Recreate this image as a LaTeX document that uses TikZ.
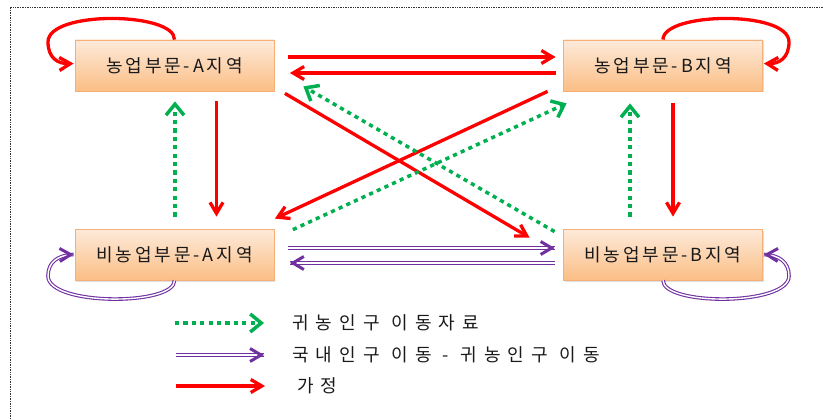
\documentclass[tikz,border=0pt]{standalone}
\usepackage{fontspec}
\newfontfamily\krnode[LetterSpace=16]{Noto Sans CJK KR}
\newfontfamily\krleg[LetterSpace=40]{Noto Sans CJK KR}
\usetikzlibrary{arrows.meta,shadows,decorations.markings,calc}
\definecolor{rd}{HTML}{FF0000}
\definecolor{gn}{HTML}{00B050}
\definecolor{pp}{HTML}{7030A0}
\definecolor{boxtop}{HTML}{FDEADA}
\definecolor{boxbot}{HTML}{FBBE85}
\definecolor{boxline}{HTML}{F5B07A}
\tikzset{
  region/.style={rectangle, minimum width=199pt, minimum height=51pt, inner sep=0pt,
    top color=boxtop, bottom color=boxbot, draw=boxline, line width=0.8pt,
    drop shadow={shadow xshift=1pt, shadow yshift=-1.5pt, opacity=0.25},
    font=\krnode\fontsize{18}{20}\selectfont, text=black!90},
  legtext/.style={anchor=west, inner sep=0pt, font=\krleg\fontsize{18}{20}\selectfont, text=black!90},
  redarr/.style={draw=rd, line width=3.3pt, -{Straight Barb[length=11pt,width=13pt]}},
  grnarr/.style={draw=gn, line width=3.5pt, dash pattern=on 4.2pt off 4.2pt,
    -{Straight Barb[length=11pt,width=18pt]}},
  purarr/.style={draw=pp, line width=1.1pt, double=white, double distance=1.4pt,
    postaction={decorate, decoration={markings,
      mark=at position 1 with {\arrow[pp, line width=3pt]{Straight Barb[length=11pt,width=13pt]}}}}},
  frame/.style={draw=black!80, line width=0.7pt, densely dotted}
}
\begin{document}
\begin{tikzpicture}[x=1pt,y=-1pt]
\useasboundingbox (0,0) rectangle (823,420);
\coordinate (fr0) at (10,7);
\coordinate (fr1) at (823,7);
\coordinate (fr2) at (10,420);
\draw[frame] (fr1) -- (fr0) -- (fr2);

\node[region] (aa) at (174.5,65.5) {농업부문-A지역};
\node[region] (ba) at (663,65.5) {농업부문-B지역};
\node[region] (an) at (174.5,254.5) {비농업부문-A지역};
\node[region] (bn) at (663,254.5) {비농업부문-B지역};

% horizontal red
\draw[redarr] ($(aa.east)+(13.5,-8.5)$) -- ($(ba.west)+(-7.5,-8.5)$);
\draw[redarr] ($(ba.west)+(-7.5,7.5)$) -- ($(aa.east)+(15.5,7.5)$);
% diagonal red
\draw[redarr] ($(aa.south east)+(10.5,2)$) -- ($(bn.north west)+(-33.5,9)$);
\draw[redarr] ($(ba.south west)+(-15.5,0)$) -- ($(an.north east)+(0.5,-10)$);
% diagonal green
\draw[grnarr] ($(bn.north west)+(-8.5,3)$) -- ($(aa.south east)+(29,-5)$);
\draw[grnarr] ($(an.north east)+(18.5,1)$) -- ($(ba.south west)+(3.5,12)$);
% vertical
\draw[redarr] ($(aa.south)+(42,10)$) -- ($(an.north)+(42,-12)$);
\draw[grnarr] ($(an.north)+(0.5,-12)$) -- ($(aa.south)+(0.5,10)$);
\draw[grnarr] ($(bn.north)+(-33,-12)$) -- ($(ba.south)+(-33,12)$);
\draw[redarr] ($(ba.south)+(10,12)$) -- ($(bn.north)+(10,-12)$);
% purple
\draw[purarr] ($(an.east)+(13.5,-6.5)$) -- ($(bn.west)+(-8.5,-6.5)$);
\draw[purarr] ($(bn.west)+(-8.5,8.5)$) -- ($(an.east)+(15.5,8.5)$);

% self loops
\draw[redarr] (aa.north) .. controls (175,12) and (48,10) .. (48,42)
   .. controls (48,58) and (58,64) .. ($(aa.west)+(-1,-2)$);
\draw[redarr] (ba.north) .. controls (663,12) and (789,10) .. (789,42)
   .. controls (789,58) and (779,64) .. ($(ba.east)+(1,-2)$);
\draw[purarr] (an.south) .. controls (175,306) and (48,306) .. (48,276)
   .. controls (48,262) and (58,255) .. ($(an.west)+(-1,0)$);
\draw[purarr] (bn.south) .. controls (663,306) and (789,306) .. (789,276)
   .. controls (789,262) and (779,255) .. ($(bn.east)+(1,0)$);

% legend
\coordinate (l1s) at (175,323); \coordinate (l1e) at (264,323);
\coordinate (l2s) at (176,355); \coordinate (l2e) at (264,355);
\coordinate (l3s) at (176,386); \coordinate (l3e) at (265,386);
\draw[grnarr] (l1s) -- (l1e);
\draw[purarr] (l2s) -- (l2e);
\draw[redarr] (l3s) -- (l3e);
\node[legtext] (t1) at (292,323) {귀농인구 이동자료};
\node[legtext] (t2) at (292,355) {국내인구 이동 - 귀농인구 이동};
\node[legtext] (t3) at (297,386) {가정};
\end{tikzpicture}
\end{document}
